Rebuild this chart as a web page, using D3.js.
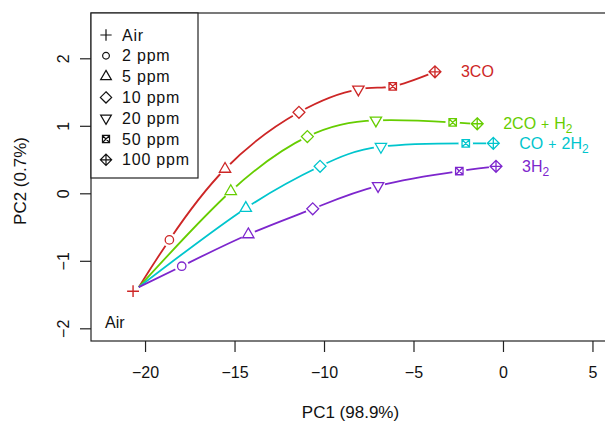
<!DOCTYPE html>
<html>
<head>
<meta charset="utf-8">
<script src="https://cdn.jsdelivr.net/npm/d3@7"></script>
<style>
  html, body { margin: 0; padding: 0; background: #fff; }
  svg { display: block; font-family: "Liberation Sans", Arial, Helvetica, sans-serif; }
</style>
</head>
<body>
<svg id="chart" width="605" height="421"></svg>
<script>
// ---- data ----
const seriesNames = ["3CO", "2CO+H2", "CO+2H2", "3H2"];
const seriesColors = ["#CD2626", "#66CD00", "#00C5CD", "#7D26CD"];
const concentrations = ["2 ppm", "5 ppm", "10 ppm", "20 ppm", "50 ppm", "100 ppm"];
const markerTypes = ["circle", "triUp", "diamond", "triDown", "squareX", "diamondPlus"];

const pc1_3CO   = [-18.64, -15.53, -11.40, -8.08, -6.16, -3.80];
const pc2_3CO   = [-0.69, 0.36, 1.20, 1.54, 1.585, 1.80];
const pc1_2COH2 = [null, -15.21, -10.93, -7.10, -2.81, -1.44];
const pc2_2COH2 = [null, 0.03, 0.84, 1.08, 1.05, 1.03];
const pc1_CO2H2 = [null, -14.37, -10.22, -6.82, -2.08, -0.54];
const pc2_CO2H2 = [null, -0.22, 0.40, 0.69, 0.74, 0.74];
const pc1_3H2   = [-17.95, -14.23, -10.63, -6.98, -2.44, -0.39];
const pc2_3H2   = [-1.08, -0.61, -0.23, 0.11, 0.33, 0.40];

const curveOrigin = [-20.35, -1.39];   // common start of fitted curves
const airPoint = [-20.67, -1.45];       // Air measurement

const xTicks = [-20, -15, -10, -5, 0, 5];
const yTicks = [-2, -1, 0, 1, 2];
const xTitle = "PC1 (98.9%)";
const yTitle = "PC2 (0.7%)";

const pc1 = [pc1_3CO, pc1_2COH2, pc1_CO2H2, pc1_3H2];
const pc2 = [pc2_3CO, pc2_2COH2, pc2_CO2H2, pc2_3H2];

// ---- layout ----
const svg = d3.select("#chart");
const L = 91, R = 610, T = 13, B = 341;
const x = d3.scaleLinear().domain([-23.02, 5.98]).range([L, R]);
const y = d3.scaleLinear().domain([-2.188, 2.671]).range([B, T]);

// ---- marker shapes (R pch style) ----
const base = 4.2;
function markerPath(type, s) {
  const k = s || 1;
  const b = base * k;
  const p = d3.path();
  if (type === "circle") {
    p.moveTo(b, 0); p.arc(0, 0, b, 0, 2 * Math.PI);
  } else if (type === "triUp" || type === "triDown") {
    const r = 1.5551 * b, hw = 1.3468 * b, yc = 0.7776 * b;
    const sg = type === "triUp" ? 1 : -1;
    p.moveTo(0, -sg * r); p.lineTo(hw, sg * yc); p.lineTo(-hw, sg * yc); p.closePath();
  } else if (type === "diamond") {
    const d = Math.SQRT2 * b;
    p.moveTo(0, -d); p.lineTo(d, 0); p.lineTo(0, d); p.lineTo(-d, 0); p.closePath();
  } else if (type === "squareX") {
    const h = 0.88622 * b;
    p.rect(-h, -h, 2 * h, 2 * h);
    p.moveTo(-h, -h); p.lineTo(h, h); p.moveTo(h, -h); p.lineTo(-h, h);
  } else if (type === "diamondPlus") {
    const d = Math.SQRT2 * b;
    p.moveTo(0, -d); p.lineTo(d, 0); p.lineTo(0, d); p.lineTo(-d, 0); p.closePath();
    p.moveTo(-d, 0); p.lineTo(d, 0); p.moveTo(0, -d); p.lineTo(0, d);
  } else if (type === "plus") {
    const d = Math.SQRT2 * b;
    p.moveTo(-d, 0); p.lineTo(d, 0); p.moveTo(0, -d); p.lineTo(0, d);
  }
  return p.toString();
}

// ---- axes ----
const xAxis = svg.append("g").attr("transform", `translate(0,${B})`)
  .call(d3.axisBottom(x).tickValues(xTicks).tickSize(11).tickSizeOuter(0).tickPadding(15).tickFormat(d3.format("d")));
xAxis.select(".domain").remove();
xAxis.selectAll("line").attr("stroke", "#222").attr("stroke-width", 1.2);
xAxis.selectAll("text").attr("font-size", 16).attr("fill", "#111")
  .attr("font-family", "Liberation Sans, Arial, sans-serif");

const yAxis = svg.append("g").attr("transform", `translate(${L},0)`)
  .call(d3.axisLeft(y).tickValues(yTicks).tickSize(11).tickSizeOuter(0).tickFormat(""));
yAxis.select(".domain").remove();
yAxis.selectAll("line").attr("stroke", "#222").attr("stroke-width", 1.2);
yAxis.selectAll(".tick").append("text")
  .attr("transform", "translate(-22,0) rotate(-90)")
  .attr("text-anchor", "middle")
  .attr("font-size", 16).attr("fill", "#111")
  .attr("font-family", "Liberation Sans, Arial, sans-serif")
  .text(d => d3.format("d")(d));

// axis titles
svg.append("text").attr("x", (L + R) / 2).attr("y", 418)
  .attr("text-anchor", "middle").attr("font-size", 17).attr("fill", "#111").text(xTitle);
svg.append("text").attr("transform", `translate(26,${(T + B) / 2 + 4}) rotate(-90)`)
  .attr("text-anchor", "middle").attr("font-size", 17).attr("fill", "#111").text(yTitle);

// ---- curves ----
const line = d3.line().x(d => x(d[0])).y(d => y(d[1])).curve(d3.curveNatural);
const plotG = svg.append("g");

seriesNames.forEach((name, i) => {
  const pts = [curveOrigin];
  pc1[i].forEach((v, j) => { if (v !== null) pts.push([v, pc2[i][j]]); });
  plotG.append("path").attr("d", line(pts)).attr("fill", "none")
    .attr("stroke", seriesColors[i]).attr("stroke-width", 1.8);
});

// white halos for line gaps
seriesNames.forEach((name, i) => {
  pc1[i].forEach((v, j) => {
    if (v === null) return;
    plotG.append("circle").attr("cx", x(v)).attr("cy", y(pc2[i][j])).attr("r", 7.2).attr("fill", "#fff");
  });
});

// markers
seriesNames.forEach((name, i) => {
  pc1[i].forEach((v, j) => {
    if (v === null) return;
    plotG.append("path").attr("d", markerPath(markerTypes[j]))
      .attr("transform", `translate(${x(v)},${y(pc2[i][j])})`)
      .attr("fill", "none").attr("stroke", seriesColors[i]).attr("stroke-width", 1.3);
  });
});

// Air marker
plotG.append("path").attr("d", markerPath("plus"))
  .attr("transform", `translate(${x(airPoint[0])},${y(airPoint[1])})`)
  .attr("fill", "none").attr("stroke", seriesColors[0]).attr("stroke-width", 1.4);

svg.append("text").attr("x", 105).attr("y", 328).attr("font-size", 16).attr("fill", "#111").text("Air");

// series labels
function seriesLabel(i, parts) {
  const last = pc1[i].length - 1;
  const t = svg.append("text")
    .attr("x", x(pc1[i][last]) + 26).attr("y", y(pc2[i][last]) + 5.5)
    .attr("font-size", 16).attr("fill", seriesColors[i]);
  parts.forEach(pt => {
    const ts = t.append("tspan").text(pt.t);
    if (pt.sub) ts.attr("font-size", 12).attr("dy", 4);
    if (pt.dx) ts.attr("dx", pt.dx);
    if (pt.plus) ts.attr("font-size", 14);
  });
}
seriesLabel(0, [{t: "3CO"}]);
seriesLabel(1, [{t: "2CO"}, {t: "+", dx: 5, plus: true}, {t: "H", dx: 5}, {t: "2", sub: true}]);
seriesLabel(2, [{t: "CO"}, {t: "+", dx: 5, plus: true}, {t: "2H", dx: 5}, {t: "2", sub: true}]);
seriesLabel(3, [{t: "3H"}, {t: "2", sub: true}]);

// ---- plot box ----
svg.append("rect").attr("x", L).attr("y", T).attr("width", R - L).attr("height", B - T)
  .attr("fill", "none").attr("stroke", "#222").attr("stroke-width", 1.2);

// ---- legend ----
const legendLabels = ["Air"].concat(concentrations);
const legendShapes = ["plus"].concat(markerTypes);
const lg = svg.append("g");
lg.append("rect").attr("x", L).attr("y", T).attr("width", 107).attr("height", 165)
  .attr("fill", "#fff").attr("stroke", "#222").attr("stroke-width", 1.2);
legendLabels.forEach((lab, k) => {
  const cy = 35 + k * 20.8;
  lg.append("path").attr("d", markerPath(legendShapes[k], k === 1 ? 0.8 : 0.95))
    .attr("transform", `translate(106,${cy})`)
    .attr("fill", "none").attr("stroke", "#111").attr("stroke-width", 1.2);
  lg.append("text").attr("x", 122).attr("y", cy + 5.6).attr("font-size", 16)
    .attr("letter-spacing", 0.8).attr("fill", "#111").text(lab);
});
</script>
</body>
</html>
